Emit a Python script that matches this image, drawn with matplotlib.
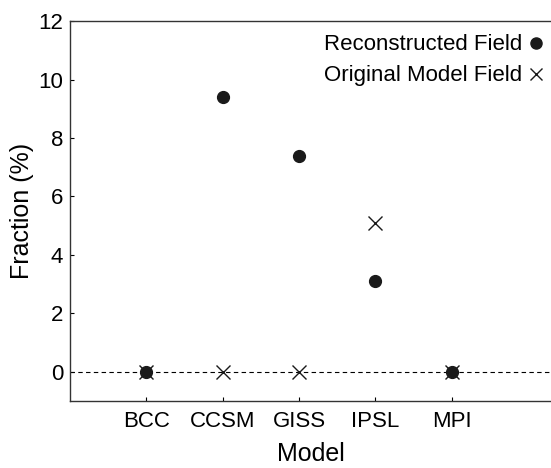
import numpy as np
from matplotlib import pyplot as plt

plt.rcParams['font.family'] = ['Liberation Sans', 'DejaVu Sans']

models = ["BCC", "CCSM", "GISS", "IPSL", "MPI"]
reconstructed = [0.0, 9.4, 7.4, 3.1, 0.0]
original = [0.0, 0.0, 0.0, 5.1, 0.0]

x = np.arange(1, len(models) + 1)

fig = plt.figure(figsize=(5.51, 4.68), dpi=100)
ax = fig.add_axes([0.127, 0.143, 0.873, 0.812])

ax.axhline(0, color="black", ls=(0, (4, 3)), lw=0.8, zorder=1)
ax.plot(x, reconstructed, "o", color="#1a1a1a", ms=8.5, ls="none",
        label="Reconstructed Field", zorder=3)
ax.plot(x, original, "x", color="#1a1a1a", ms=10, mew=1.0, ls="none",
        label="Original Model Field", zorder=2)

ax.set_xlim(0, 6.3)
ax.set_ylim(-1, 12)
ax.set_xticks(x)
ax.set_xticklabels(models)
ax.set_yticks(np.arange(0, 13, 2))
ax.tick_params(direction="in", length=3, labelsize=16, width=0.8)
ax.tick_params(axis="x", pad=7)
ax.tick_params(axis="y", pad=5)
ax.spines["right"].set_visible(False)
for s in ["left", "bottom", "top"]:
    ax.spines[s].set_linewidth(1.0)
    ax.spines[s].set_color("#333333")

ax.set_xlabel("Model", fontsize=18, labelpad=7)
ax.set_ylabel("Fraction (%)", fontsize=18, labelpad=3)

leg = ax.legend(loc="upper right", bbox_to_anchor=(1.014, 1.0), frameon=False,
                markerfirst=False, fontsize=16, handletextpad=0.2,
                handlelength=0.8, labelspacing=0.45, borderaxespad=0.2)
for h in leg.legend_handles:
    h.set_markersize(8)

plt.savefig("out.png")
